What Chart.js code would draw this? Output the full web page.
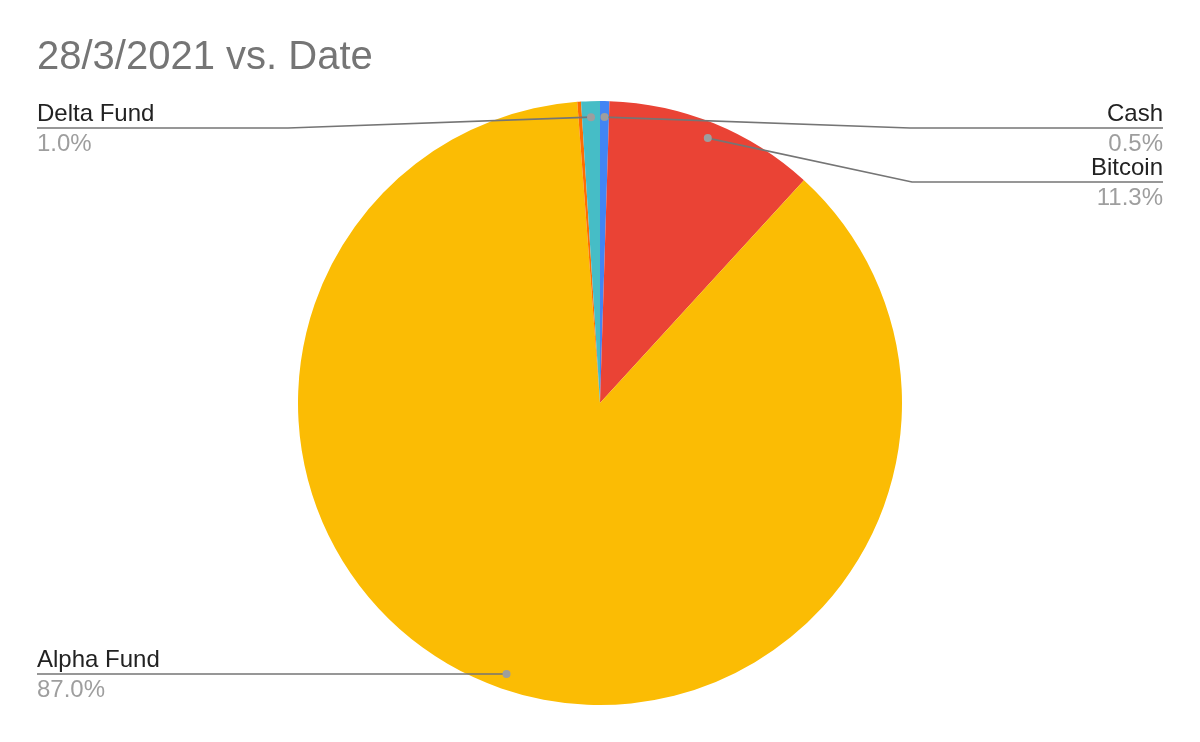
<!DOCTYPE html>
<html>
<head>
<meta charset="utf-8">
<script src="https://cdn.jsdelivr.net/npm/chart.js@4/dist/chart.umd.min.js"></script>
<style>
  html, body { margin: 0; padding: 0; background: #fff; }
  #wrap { width: 1200px; height: 742px; }
</style>
</head>
<body>
<div id="wrap"><canvas id="c" width="1200" height="742"></canvas></div>
<script>
const categories = ["Cash", "Bitcoin", "Alpha Fund", "Other", "Delta Fund"];
const values = [0.5, 11.3, 87.0, 0.2, 1.0];
const percentLabels = ["0.5%", "11.3%", "87.0%", "", "1.0%"];
const colors = ["#4285F4", "#EA4335", "#FBBC04", "#FF6D01", "#46BDC6"];
const titleText = "28/3/2021 vs. Date";

const FONT = "'Liberation Sans', Arial, sans-serif";

// label layout: side, text baseline y, elbow x
const labelLayout = {
  "Cash":       { side: "right", y: 121, elbow: 910 },
  "Bitcoin":    { side: "right", y: 175, elbow: 912 },
  "Delta Fund": { side: "left",  y: 121, elbow: 288 },
  "Alpha Fund": { side: "left",  y: 667, elbow: null }
};

const leaderPlugin = {
  id: 'leaders',
  afterDraw(chart) {
    const ctx = chart.ctx;
    const meta = chart.getDatasetMeta(0);
    ctx.save();
    meta.data.forEach((arc, i) => {
      const name = categories[i];
      const lay = labelLayout[name];
      if (!lay) return;
      const p = arc.getProps(['x', 'y', 'startAngle', 'endAngle', 'outerRadius'], true);
      const mid = (p.startAngle + p.endAngle) / 2;
      const r = p.outerRadius * 0.947;
      const dx = p.x + Math.cos(mid) * r;
      const dy = p.y + Math.sin(mid) * r;
      const lineY = lay.y + 7;
      const outerX = lay.side === "left" ? 37 : 1163;
      ctx.strokeStyle = "#757575";
      ctx.lineWidth = 1.7;
      ctx.beginPath();
      ctx.moveTo(outerX, lineY);
      if (lay.elbow !== null) {
        ctx.lineTo(lay.elbow, lineY);
        ctx.lineTo(dx, dy);
      } else {
        ctx.lineTo(dx, lineY);
      }
      ctx.stroke();
      ctx.fillStyle = "#9e9e9e";
      ctx.beginPath();
      ctx.arc(dx, lay.elbow !== null ? dy : lineY, 4, 0, Math.PI * 2);
      ctx.fill();
      ctx.font = "24px " + FONT;
      ctx.textBaseline = "alphabetic";
      ctx.textAlign = lay.side === "left" ? "left" : "right";
      ctx.fillStyle = "#222222";
      ctx.fillText(name, outerX, lay.y);
      ctx.fillStyle = "#9e9e9e";
      ctx.fillText(percentLabels[i], outerX, lay.y + 30);
    });
    ctx.restore();
  }
};

new Chart(document.getElementById('c'), {
  type: 'pie',
  data: {
    labels: categories,
    datasets: [{
      data: values,
      backgroundColor: colors,
      borderWidth: 0,
      hoverOffset: 0
    }]
  },
  options: {
    responsive: false,
    animation: false,
    events: [],
    layout: { padding: { top: 0, left: 37, right: 37, bottom: 37 } },
    plugins: {
      legend: { display: false },
      tooltip: { enabled: false },
      title: {
        display: true,
        text: titleText,
        align: 'start',
        color: '#757575',
        font: { family: FONT, size: 40, weight: 'normal', lineHeight: 1.2 },
        padding: { top: 34, bottom: 19 }
      }
    }
  },
  plugins: [leaderPlugin]
});
</script>
</body>
</html>
